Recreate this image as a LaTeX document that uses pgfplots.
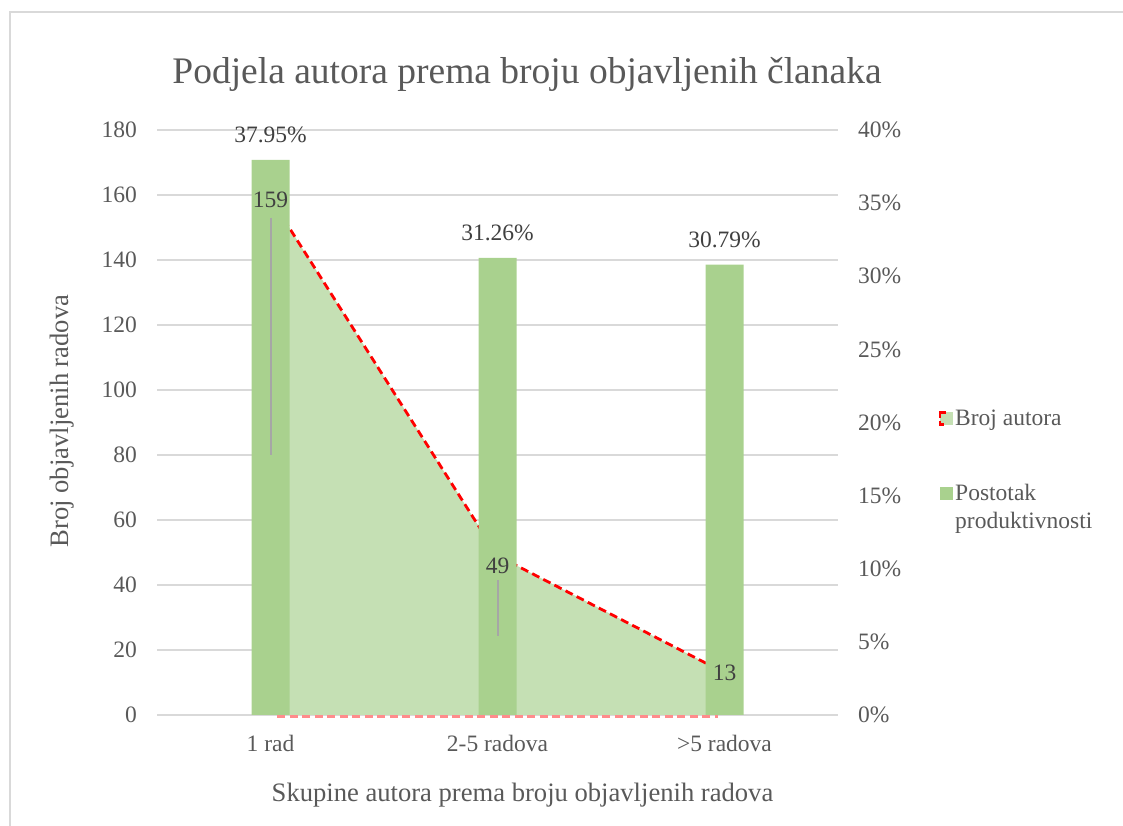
\documentclass[border=0pt]{standalone}
\usepackage{pgfplots}
\pgfplotsset{compat=1.18}
\usepackage{fontspec}
\setmainfont{Liberation Serif}
\definecolor{barC}{HTML}{A9D18E}
\definecolor{areaC}{HTML}{C5E0B4}
\definecolor{txt}{HTML}{595959}
\definecolor{lbl}{HTML}{404040}
\definecolor{gridC}{HTML}{D9D9D9}
\definecolor{leadC}{HTML}{A6A6A6}
\begin{document}
\begin{tikzpicture}[x=1pt,y=1pt]
\useasboundingbox (0,0) rectangle (1123,826);
\draw[gridC, line width=1.2pt] (10,-20) -- (10,814) -- (1140,814);
\node[txt, font=\fontsize{37.5}{44}\selectfont, anchor=base] at (527,742) {Podjela autora prema broju objavljenih članaka};
\node[txt, font=\fontsize{26.6}{32}\selectfont, anchor=base] at (522.5,24) {Skupine autora prema broju objavljenih radova};
\node[txt, font=\fontsize{26.6}{32}\selectfont, anchor=base, rotate=90] at (68,405) {Broj objavljenih radova};

% axis 1: grid + area
\begin{axis}[at={(157pt,111pt)}, anchor=south west, width=681pt, height=585pt, scale only axis,
  xmin=-0.5, xmax=2.5, ymin=0, ymax=180, ytick={0,20,...,180},
  xtick={0,1,2}, xticklabels={1 rad, 2-5 radova, >5 radova},
  axis line style={draw=none}, major tick length=0pt,
  ymajorgrids, grid style={gridC, line width=1.2pt},
  tick label style={txt, font=\fontsize{23.5}{28}\selectfont},
  /pgf/number format/assume math mode=true,
  yticklabel style={inner sep=0pt, xshift=-20pt},
  xticklabel style={inner sep=0pt, yshift=-20pt, anchor=north},
  clip=false]
\addplot[fill=areaC, draw=none] coordinates {(0,159) (1,49) (2,13)} \closedcycle;
\addplot[red!45, line width=2.5pt, dash pattern=on 8pt off 4.5pt] coordinates {(0.03,-0.4) (1.97,-0.4)};
\addplot[red, line width=2.8pt, dash pattern=on 8pt off 4.5pt] coordinates {(0,159) (1,49) (2,13)};
\end{axis}

% axis 2: bars (right axis)
\begin{axis}[at={(157pt,111pt)}, anchor=south west, width=681pt, height=585pt, scale only axis,
  xmin=-0.5, xmax=2.5, ymin=0, ymax=40, ytick={0,5,...,40},
  xtick=\empty, yticklabel pos=right,
  yticklabel={\pgfmathprintnumber{\tick}\%},
  axis line style={draw=none}, major tick length=0pt,
  tick label style={txt, font=\fontsize{23.5}{28}\selectfont},
  /pgf/number format/assume math mode=true,
  yticklabel style={inner sep=0pt, xshift=20pt, anchor=west},
  clip=false,
  legend style={draw=none, fill=none, inner sep=0pt, at={(rel axis cs:1.148,0.43)}, anchor=west,
    font=\fontsize{23.5}{28}\selectfont, text=txt, row sep=50pt},
  legend cell align=left]
\addlegendimage{legend image code/.code={\fill[areaC] (0pt,-6pt) rectangle (12pt,6pt);
  \draw[red, line width=2.5pt] (6pt,6pt) -- (0pt,6pt) -- (0pt,1pt);
  \draw[red, line width=2.5pt] (0pt,-2pt) -- (0pt,-6pt) -- (4pt,-6pt);}}
\addlegendentry{Broj autora}
\addplot[ybar, bar width=38pt, fill=barC, draw=none,
  nodes near coords={\pgfmathprintnumber[fixed, precision=2, fixed zerofill]{\pgfplotspointmeta}\%},
  nodes near coords style={lbl, font=\fontsize{23.5}{28}\selectfont, inner sep=0pt, anchor=south, yshift=17pt},
  legend image code/.code={\fill[barC] (0pt,-1pt) rectangle (13pt,12pt);}]
  coordinates {(0,37.95) (1,31.26) (2,30.79)};
\addlegendentry{\begin{tabular}{@{}l@{}}Postotak\\produktivnosti\end{tabular}}
\end{axis}

% axis 3: labels of Broj autora on top
\begin{axis}[at={(157pt,111pt)}, anchor=south west, width=681pt, height=585pt, scale only axis,
  xmin=-0.5, xmax=2.5, ymin=0, ymax=180, hide axis, clip=false]
\draw[leadC, line width=2pt] (axis cs:0,153) -- (axis cs:0,80);
\draw[leadC, line width=2pt] (axis cs:1,41.5) -- (axis cs:1,24.3);
\addplot[draw=none, mark=none, nodes near coords, point meta=explicit symbolic,
  nodes near coords style={lbl, font=\fontsize{23.5}{28}\selectfont, anchor=center, inner sep=0pt}]
  coordinates {(0,158.5)[159] (1,46)[49] (2,13)[13]};
\end{axis}
\end{tikzpicture}
\end{document}
